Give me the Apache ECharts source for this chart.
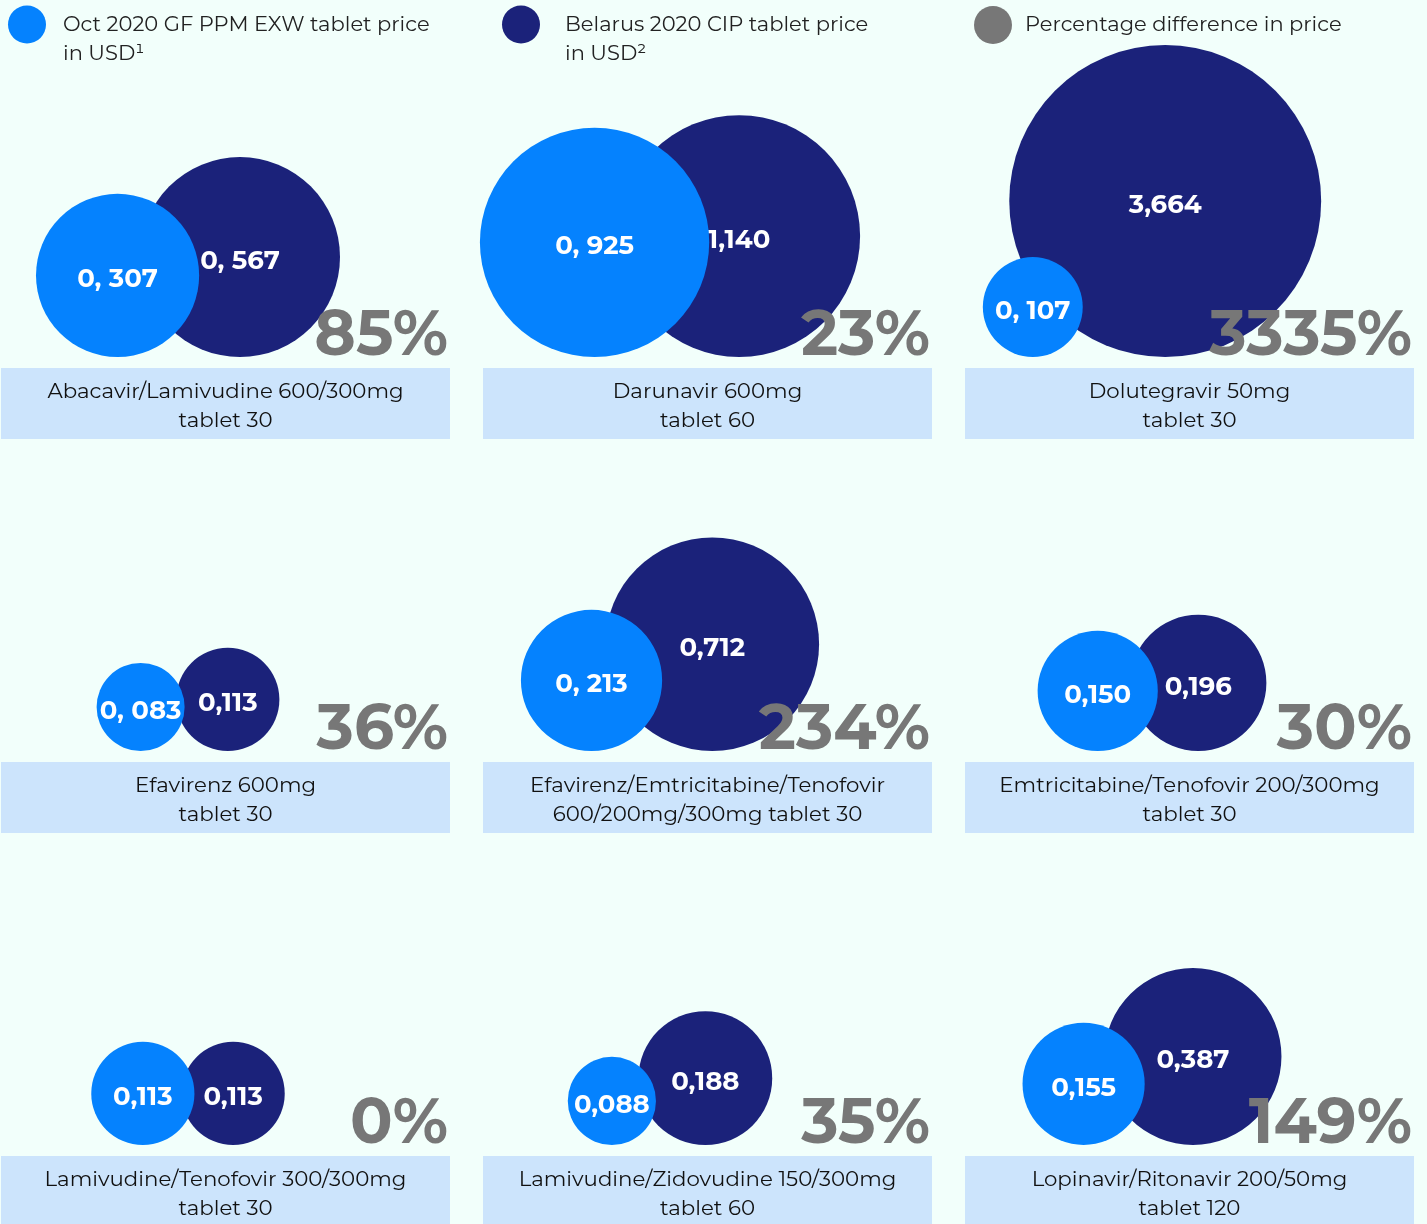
<!DOCTYPE html>
<html><head><meta charset="utf-8">
<script src="https://cdn.jsdelivr.net/npm/echarts@6/dist/echarts.min.js"></script>
<style>html,body{margin:0;padding:0;background:#F2FFFB;}#c{width:1427px;height:1224px;}</style>
</head><body><div id="c"></div>
<script>
// ---------- data ----------
const drugs = [
  'Abacavir/Lamivudine 600/300mg\ntablet 30',
  'Darunavir 600mg\ntablet 60',
  'Dolutegravir 50mg\ntablet 30',
  'Efavirenz 600mg\ntablet 30',
  'Efavirenz/Emtricitabine/Tenofovir\n600/200mg/300mg tablet 30',
  'Emtricitabine/Tenofovir 200/300mg\ntablet 30',
  'Lamivudine/Tenofovir 300/300mg\ntablet 30',
  'Lamivudine/Zidovudine 150/300mg\ntablet 60',
  'Lopinavir/Ritonavir 200/50mg\ntablet 120'
];
const gfPrice      = [0.307, 0.925, 0.107, 0.083, 0.213, 0.150, 0.113, 0.088, 0.155];
const belarusPrice = [0.567, 1.140, 3.664, 0.113, 0.712, 0.196, 0.113, 0.188, 0.387];
const gfLabels      = ['0, 307', '0, 925', '0, 107', '0, 083', '0, 213', '0,150', '0,113', '0,088', '0,155'];
const belarusLabels = ['0, 567', '1,140', '3,664', '0,113', '0,712', '0,196', '0,113', '0,188', '0,387'];
const pctDiff = ['85%', '23%', '3335%', '36%', '234%', '30%', '0%', '35%', '149%'];
const seriesNames = ['Oct 2020 GF PPM EXW tablet price in USD', 'Belarus 2020 CIP tablet price in USD', 'Percentage difference in price'];

// ---------- style ----------
const FONT = 'Montserrat, Inter, "Open Sans", sans-serif';
const C_LIGHT = '#0582FE', C_DARK = '#1B227A', C_GRAY = '#777777', C_BOX = '#CCE4FC';

const panelData = drugs.map((d, i) => [i % 3, Math.floor(i / 3), gfPrice[i], belarusPrice[i], i]);

// radius scale (value -> px), log-based
function rad(v) { return Math.max(44, 117 + 30 * Math.log(v)); }

function geom(api) {
  const o = api.coord([api.value(0), api.value(1)]);
  const rL = rad(api.value(2)), rD = rad(api.value(3));
  const dx = 0.41 * (rL + rD) + 48;
  const w = rL + dx + rD;
  const cxL = o[0] + 188 - w / 2 + rL;
  const base = o[1] + 357;
  return { ox: o[0], oy: o[1], rL, rD, cxL, cxD: cxL + dx, cyL: base - rL, cyD: base - rD, i: api.value(4) };
}

function circleItem(cx, cy, r, fill, label) {
  return { type: 'group', children: [
    { type: 'circle', shape: { cx, cy, r }, style: { fill } },
    { type: 'text', x: cx, y: cy + 4, style: { text: label, fill: '#fff', fontFamily: FONT, fontWeight: 700, fontSize: 26, align: 'center', verticalAlign: 'middle' } }
  ]};
}

function legendText(gap) {
  return { color: '#222', fontFamily: FONT, fontSize: 21, padding: [0, 0, 0, gap],
    rich: { a: { color: '#222', fontFamily: FONT, fontSize: 21, lineHeight: 29 } } };
}

const chart = echarts.init(document.getElementById('c'), null, { renderer: 'canvas' });
chart.setOption({
  backgroundColor: '#F2FFFB',
  animation: false,
  grid: { left: 0, top: -2, width: 964, height: 790 },
  xAxis: { type: 'value', min: 0, max: 2, show: false },
  yAxis: { type: 'value', min: 0, max: 2, inverse: true, show: false },
  legend: [
    { data: [seriesNames[0]], left: 8, top: -15, padding: 0, icon: 'circle', itemWidth: 38, itemHeight: 38, selectedMode: false,
      formatter: () => '{a| }\n{a|Oct 2020 GF PPM EXW tablet price}\n{a|in USD\u00B9}', textStyle: legendText(12) },
    { data: [seriesNames[1]], left: 502, top: -15, padding: 0, icon: 'circle', itemWidth: 38, itemHeight: 38, selectedMode: false,
      formatter: () => '{a| }\n{a|Belarus 2020 CIP tablet price}\n{a|in USD\u00B2}', textStyle: legendText(20) },
    { data: [seriesNames[2]], left: 974, top: 6, padding: 0, icon: 'circle', itemWidth: 38, itemHeight: 38, selectedMode: false,
      formatter: () => '{a|Percentage difference in price}', textStyle: legendText(8) }
  ],
  series: [
    { type: 'custom', name: seriesNames[1], itemStyle: { color: C_DARK }, data: panelData, z: 2,
      renderItem: (p, api) => { const g = geom(api); return circleItem(g.cxD, g.cyD, g.rD, C_DARK, belarusLabels[g.i]); } },
    { type: 'custom', name: seriesNames[0], itemStyle: { color: C_LIGHT }, data: panelData, z: 3,
      renderItem: (p, api) => { const g = geom(api); return circleItem(g.cxL, g.cyL, g.rL, C_LIGHT, gfLabels[g.i]); } },
    { type: 'custom', name: seriesNames[2], itemStyle: { color: C_GRAY }, data: panelData, z: 4,
      renderItem: (p, api) => { const g = geom(api);
        return { type: 'text', x: g.ox + 448, y: g.oy + 336, style: { text: pctDiff[g.i], fill: C_GRAY, fontFamily: FONT, fontWeight: 700, fontSize: 63, align: 'right', verticalAlign: 'middle' } }; } },
    { type: 'custom', name: 'drug', data: panelData, z: 1,
      renderItem: (p, api) => { const g = geom(api);
        return { type: 'group', children: [
          { type: 'rect', shape: { x: g.ox + 1, y: g.oy + 368, width: 449, height: 71 }, style: { fill: C_BOX } },
          { type: 'text', x: g.ox + 225.5, y: g.oy + 406, style: { text: drugs[g.i], fill: '#111', fontFamily: FONT, fontSize: 21.3, lineHeight: 29, align: 'center', verticalAlign: 'middle' } }
        ]}; } }
  ]
});
</script></body></html>
